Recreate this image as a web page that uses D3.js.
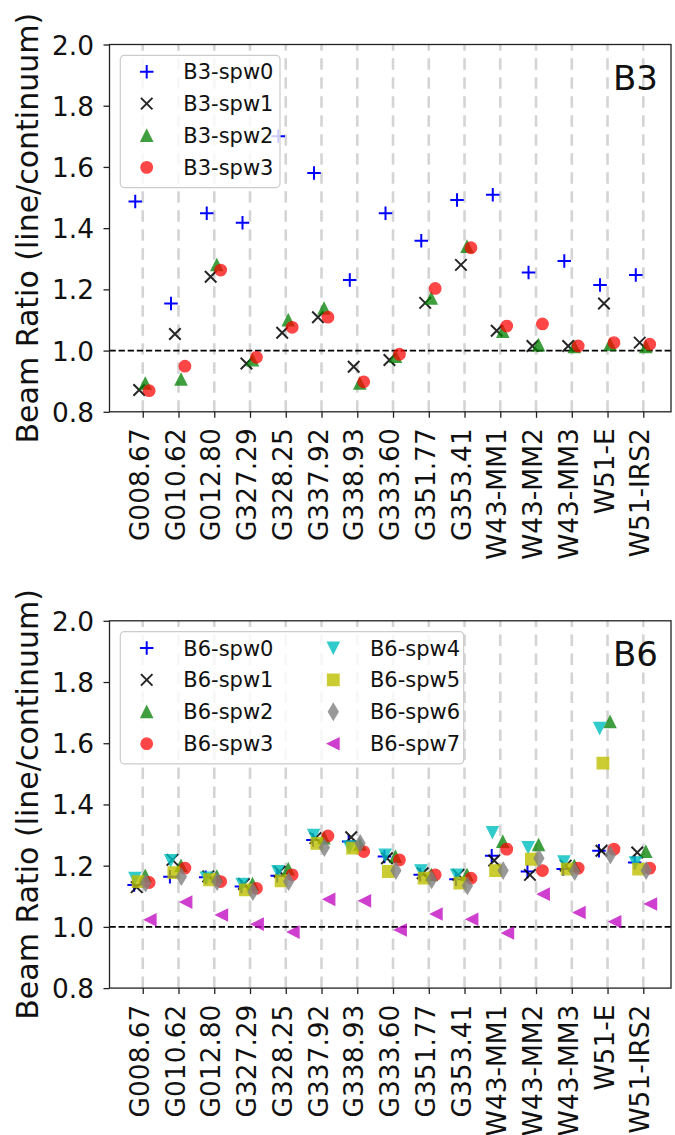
<!DOCTYPE html>
<html>
<head>
<meta charset="utf-8">
<script src="https://cdn.jsdelivr.net/npm/d3@7"></script>
<style>
  body { margin: 0; background: #fff; }
  text { font-family: "DejaVu Sans", sans-serif; fill: #111; }
</style>
</head>
<body>
<svg id="fig" width="675" height="1135"></svg>
<script>
// ---- data -------------------------------------------------------------
const sources = ["G008.67", "G010.62", "G012.80", "G327.29", "G328.25", "G337.92",
  "G338.93", "G333.60", "G351.77", "G353.41", "W43-MM1", "W43-MM2", "W43-MM3",
  "W51-E", "W51-IRS2"];
const yTickValues = [0.8, 1.0, 1.2, 1.4, 1.6, 1.8, 2.0];

const b3Names = ["B3-spw0", "B3-spw1", "B3-spw2", "B3-spw3"];
const b3Spw0 = [1.487, 1.154, 1.449, 1.418, 1.700, 1.580, 1.231, 1.449, 1.359, 1.492, 1.509, 1.255, 1.293, 1.214, 1.247];
const b3Spw1 = [0.871, 1.054, 1.241, 0.958, 1.058, 1.109, 0.947, 0.969, 1.156, 1.280, 1.065, 1.015, 1.015, 1.154, 1.026];
const b3Spw2 = [0.893, 0.906, 1.280, 0.969, 1.100, 1.138, 0.893, 0.980, 1.171, 1.340, 1.062, 1.018, 1.012, 1.020, 1.012];
const b3Spw3 = [0.869, 0.949, 1.263, 0.978, 1.076, 1.109, 0.898, 0.988, 1.203, 1.336, 1.080, 1.087, 1.015, 1.026, 1.021];

const b6Names = ["B6-spw0", "B6-spw1", "B6-spw2", "B6-spw3", "B6-spw4", "B6-spw5", "B6-spw6", "B6-spw7"];
const b6Spw0 = [1.137, 1.164, 1.162, 1.132, 1.167, 1.284, 1.279, 1.230, 1.170, 1.156, 1.232, 1.181, 1.189, 1.249, 1.210];
const b6Spw1 = [1.130, 1.219, 1.165, 1.140, 1.180, 1.290, 1.293, 1.224, 1.175, 1.170, 1.217, 1.170, 1.200, 1.249, 1.243];
const b6Spw2 = [1.167, 1.200, 1.165, 1.140, 1.189, 1.290, 1.270, 1.230, 1.170, 1.170, 1.279, 1.268, 1.200, 1.670, 1.246];
const b6Spw3 = [1.145, 1.192, 1.148, 1.126, 1.170, 1.297, 1.246, 1.219, 1.170, 1.159, 1.254, 1.184, 1.192, 1.254, 1.192];
const b6Spw4 = [1.159, 1.217, 1.160, 1.140, 1.181, 1.300, 1.262, 1.235, 1.184, 1.170, 1.309, 1.260, 1.213, 1.649, 1.210];
const b6Spw5 = [1.148, 1.177, 1.154, 1.121, 1.150, 1.273, 1.257, 1.181, 1.159, 1.143, 1.184, 1.221, 1.189, 1.535, 1.189];
const b6Spw6 = [1.143, 1.164, 1.148, 1.115, 1.148, 1.259, 1.273, 1.184, 1.154, 1.134, 1.184, 1.224, 1.181, 1.235, 1.184];
const b6Spw7 = [1.023, 1.081, 1.039, 1.009, 0.983, 1.090, 1.085, 0.990, 1.042, 1.025, 0.980, 1.107, 1.047, 1.017, 1.075];

// ---- marker styles (shape, colour, opacity, horizontal dodge in category units)
const b3Series = [
  { name: b3Names[0], values: b3Spw0, shape: "plus",     color: "#0000ff", alpha: 1.0,  dodge: -0.21 },
  { name: b3Names[1], values: b3Spw1, shape: "cross",    color: "#000000", alpha: 0.85, dodge: -0.10 },
  { name: b3Names[2], values: b3Spw2, shape: "triUp",    color: "#008000", alpha: 0.75, dodge: 0.07 },
  { name: b3Names[3], values: b3Spw3, shape: "circle",   color: "#ff0000", alpha: 0.72, dodge: 0.18 }
];
const b6Series = [
  { name: b6Names[0], values: b6Spw0, shape: "plus",     color: "#0000ff", alpha: 1.0,  dodge: -0.24 },
  { name: b6Names[1], values: b6Spw1, shape: "cross",    color: "#000000", alpha: 0.85, dodge: -0.17 },
  { name: b6Names[2], values: b6Spw2, shape: "triUp",    color: "#008000", alpha: 0.75, dodge: 0.07 },
  { name: b6Names[3], values: b6Spw3, shape: "circle",   color: "#ff0000", alpha: 0.72, dodge: 0.18 },
  { name: b6Names[4], values: b6Spw4, shape: "triDown",  color: "#00bfbf", alpha: 0.8,  dodge: -0.22 },
  { name: b6Names[5], values: b6Spw5, shape: "square",   color: "#bfbf00", alpha: 0.8,  dodge: -0.13 },
  { name: b6Names[6], values: b6Spw6, shape: "diamond",  color: "#808080", alpha: 0.8,  dodge: 0.08 },
  { name: b6Names[7], values: b6Spw7, shape: "triLeft",  color: "#bf00bf", alpha: 0.75, dodge: 0.21 }
];

// ---- geometry ---------------------------------------------------------
const svg = d3.select("#fig");
const axLeft = 109.5, axRight = 671;
const x = d3.scaleLinear().domain([-0.93, 14.775]).range([axLeft, axRight]);

const M = 11.5; // marker size in px
function markerPath(shape, m) {
  const h = m / 2;
  switch (shape) {
    case "plus":    return `M${-h - 1},0H${h + 1}M0,${-h - 1}V${h + 1}`;
    case "cross":   return `M${-h},${-h}L${h},${h}M${-h},${h}L${h},${-h}`;
    case "circle":  return `M${h},0A${h},${h} 0 1,1 ${-h},0A${h},${h} 0 1,1 ${h},0Z`;
    case "triUp":   return `M0,${-h}L${h},${h}L${-h},${h}Z`;
    case "triDown": return `M0,${h}L${h},${-h}L${-h},${-h}Z`;
    case "triLeft": return `M${-h},0L${h},${-h}L${h},${h}Z`;
    case "square":  return `M${-h},${-h}H${h}V${h}H${-h}Z`;
    case "diamond": { const dh = h * 1.42, dw = dh * 0.6; return `M0,${-dh}L${dw},0L0,${dh}L${-dw},0Z`; }
  }
}
function drawMarker(g, s, cx, cy) {
  const open = s.shape === "plus" || s.shape === "cross";
  g.append("path")
    .attr("transform", `translate(${cx},${cy})`)
    .attr("d", markerPath(s.shape, M))
    .attr("fill", open ? "none" : s.color)
    .attr("stroke", s.color)
    .attr("stroke-width", open ? 2 : 1.3)
    .attr("stroke-linejoin", "miter")
    .attr("opacity", s.alpha);
}

function drawPanel(cfg) {
  const top = cfg.top, bottom = cfg.top + 367.3;
  const y = d3.scaleLinear().domain([0.8, 2.0]).range([bottom, top]);
  const g = svg.append("g");

  // vertical guides at each source
  g.append("g").selectAll("line").data(sources).join("line")
    .attr("x1", (d, i) => x(i)).attr("x2", (d, i) => x(i))
    .attr("y1", bottom).attr("y2", top)
    .attr("stroke", "#d4d4d4").attr("stroke-width", 2.6)
    .attr("stroke-dasharray", "11.5,7.5");

  // unity reference line
  g.append("line")
    .attr("x1", axLeft).attr("x2", axRight)
    .attr("y1", y(1.0)).attr("y2", y(1.0))
    .attr("stroke", "#000").attr("stroke-width", 1.7)
    .attr("stroke-dasharray", "6.3,2.8");

  // markers
  cfg.series.forEach(s => {
    const sg = g.append("g");
    s.values.forEach((v, i) => drawMarker(sg, s, x(i + s.dodge), y(v)));
  });

  // axes
  const ya = g.append("g").attr("transform", `translate(${axLeft},0)`)
    .call(d3.axisLeft(y).tickValues(yTickValues).tickFormat(d3.format(".1f")).tickSize(6).tickPadding(9.5));
  ya.select(".domain").remove();
  ya.selectAll(".tick line").attr("stroke", "#222").attr("stroke-width", 1.3);
  ya.selectAll(".tick text").attr("font-size", 26.4).attr("dy", "0.36em")
    .attr("font-family", "DejaVu Sans").attr("fill", "#111");

  const xa = g.append("g").attr("transform", `translate(0,${bottom})`)
    .call(d3.axisBottom(x).tickValues(d3.range(sources.length)).tickFormat(i => sources[i]).tickSize(6));
  xa.select(".domain").remove();
  xa.selectAll(".tick line").attr("stroke", "#222").attr("stroke-width", 1.3);
  xa.selectAll(".tick text")
    .attr("font-size", 26.4).attr("font-family", "DejaVu Sans").attr("fill", "#111")
    .attr("text-anchor", "end")
    .attr("transform", "rotate(-90)")
    .attr("x", -16.5).attr("y", 5.5).attr("dy", 0);

  // axis frame
  g.append("rect")
    .attr("x", axLeft).attr("y", top).attr("width", axRight - axLeft).attr("height", bottom - top)
    .attr("fill", "none").attr("stroke", "#222").attr("stroke-width", 1.3);

  // y label
  g.append("text")
    .attr("transform", `translate(38,${(top + bottom) / 2}) rotate(-90)`)
    .attr("text-anchor", "middle").attr("font-size", 30)
    .text("Beam Ratio (line/continuum)");

  // band tag
  g.append("text")
    .attr("x", 658).attr("y", top + 45.3)
    .attr("text-anchor", "end").attr("font-size", 34)
    .text(cfg.band);

  // legend
  const rows = 4;
  const lg = g.append("g");
  lg.append("rect")
    .attr("x", 120.3).attr("y", top + 10.8)
    .attr("width", cfg.legendWidth).attr("height", 132.3)
    .attr("rx", 4).attr("ry", 4)
    .attr("fill", "#fff").attr("fill-opacity", 0.8)
    .attr("stroke", "#cccccc").attr("stroke-width", 1.2);
  cfg.series.forEach((s, k) => {
    const col = Math.floor(k / rows), row = k % rows;
    const mx = 146.7 + col * 186.6, my = top + 27.2 + row * 31.9;
    drawMarker(lg, s, mx, my);
    lg.append("text")
      .attr("x", mx + 36.6).attr("y", my).attr("dy", "0.36em")
      .attr("font-size", 21).text(s.name);
  });
}

drawPanel({ top: 44.5, series: b3Series, band: "B3", legendWidth: 159.7 });
drawPanel({ top: 620.8, series: b6Series, band: "B6", legendWidth: 343.4 });
</script>
</body>
</html>
